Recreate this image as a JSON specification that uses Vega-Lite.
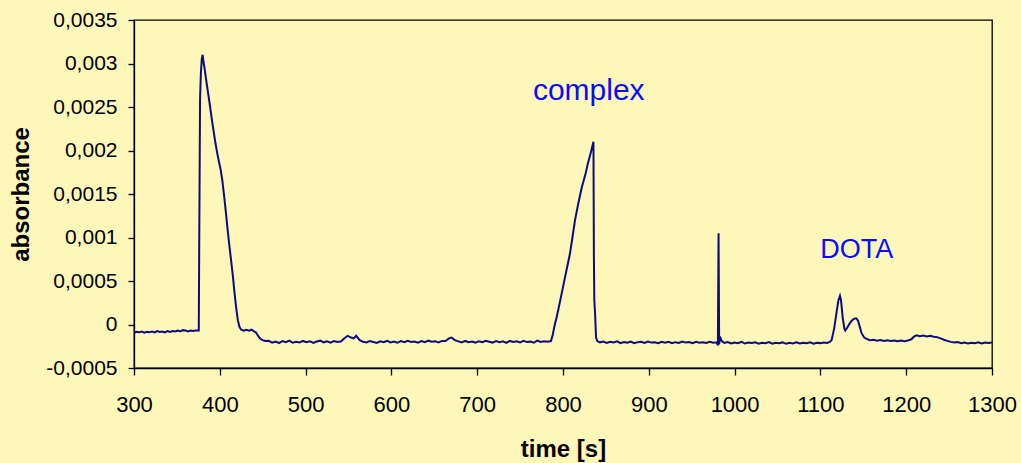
{
  "$schema": "https://vega.github.io/schema/vega-lite/v6.json",
  "width": 858,
  "height": 348,
  "autosize": "none",
  "padding": {"left": 134, "top": 20, "right": 29, "bottom": 95},
  "background": "#fdf8b9",
  "config": {
    "view": {"stroke": "#000000", "strokeWidth": 1.3},
    "axis": {
      "labelFont": "Liberation Sans",
      "titleFont": "Liberation Sans",
      "labelColor": "#000000",
      "titleColor": "#000000",
      "domainColor": "#000000",
      "tickColor": "#000000",
      "domainWidth": 1.3,
      "tickWidth": 1.3,
      "grid": false,
      "labelFontSize": 21,
      "titleFontSize": 24,
      "titleFontWeight": "bold",
      "labelFlush": false
    }
  },
  "datasets": {
    "trace": [
      {"t": 300, "a": -0.000095}, {"t": 303, "a": -0.000085}, {"t": 306, "a": -0.00009}, {"t": 309, "a": -0.00008},
      {"t": 312, "a": -0.000095}, {"t": 315, "a": -0.000085}, {"t": 318, "a": -0.00009}, {"t": 321, "a": -0.00008},
      {"t": 324, "a": -0.00009}, {"t": 327, "a": -0.000075}, {"t": 330, "a": -0.000085}, {"t": 333, "a": -0.00008},
      {"t": 336, "a": -0.00009}, {"t": 339, "a": -0.000075}, {"t": 342, "a": -0.000085}, {"t": 345, "a": -0.000075},
      {"t": 348, "a": -0.00008}, {"t": 351, "a": -0.00007}, {"t": 354, "a": -0.00008}, {"t": 357, "a": -0.000065},
      {"t": 360, "a": -0.00007}, {"t": 363, "a": -0.00008}, {"t": 366, "a": -0.00007}, {"t": 369, "a": -0.000075},
      {"t": 372, "a": -0.00007}, {"t": 375.5, "a": -0.00007}, {"t": 376, "a": 0.0009}, {"t": 377, "a": 0.0026},
      {"t": 378, "a": 0.0029}, {"t": 379, "a": 0.00305}, {"t": 380, "a": 0.0031}, {"t": 381, "a": 0.00302},
      {"t": 382, "a": 0.00296}, {"t": 383, "a": 0.00289}, {"t": 385, "a": 0.00275}, {"t": 387, "a": 0.00262},
      {"t": 389, "a": 0.00248}, {"t": 391, "a": 0.00234}, {"t": 393, "a": 0.00221}, {"t": 395, "a": 0.00208},
      {"t": 397, "a": 0.00197}, {"t": 399, "a": 0.00187}, {"t": 401, "a": 0.00178}, {"t": 403, "a": 0.00165},
      {"t": 405, "a": 0.00148}, {"t": 407, "a": 0.0013}, {"t": 409, "a": 0.0011}, {"t": 411, "a": 0.00092},
      {"t": 413, "a": 0.00075}, {"t": 415, "a": 0.00058}, {"t": 417, "a": 0.00038}, {"t": 419, "a": 0.0002},
      {"t": 421, "a": 0.00005}, {"t": 423, "a": -0.00003}, {"t": 425, "a": -0.00006}, {"t": 428, "a": -0.00007},
      {"t": 431, "a": -0.00006}, {"t": 434, "a": -0.00007}, {"t": 437, "a": -0.00006}, {"t": 440, "a": -0.00008},
      {"t": 442, "a": -0.00009}, {"t": 444, "a": -0.00012}, {"t": 446, "a": -0.00015}, {"t": 448, "a": -0.00017},
      {"t": 450, "a": -0.00018}, {"t": 453, "a": -0.00019}, {"t": 457, "a": -0.000188}, {"t": 461, "a": -0.000208},
      {"t": 465, "a": -0.000195}, {"t": 469, "a": -0.000213}, {"t": 473, "a": -0.000191}, {"t": 477, "a": -0.000204},
      {"t": 481, "a": -0.000186}, {"t": 485, "a": -0.00021}, {"t": 489, "a": -0.000198}, {"t": 493, "a": -0.000207},
      {"t": 497, "a": -0.000189}, {"t": 501, "a": -0.000203}, {"t": 505, "a": -0.000192}, {"t": 509, "a": -0.000211},
      {"t": 513, "a": -0.000196}, {"t": 517, "a": -0.000186}, {"t": 521, "a": -0.000205}, {"t": 525, "a": -0.000194},
      {"t": 529, "a": -0.000209}, {"t": 533, "a": -0.000191}, {"t": 537, "a": -0.000202}, {"t": 541, "a": -0.000195},
      {"t": 545, "a": -0.00016}, {"t": 549, "a": -0.00013}, {"t": 553, "a": -0.00015}, {"t": 556, "a": -0.00016},
      {"t": 559, "a": -0.00013}, {"t": 563, "a": -0.00018}, {"t": 567, "a": -0.000198}, {"t": 571, "a": -0.000207},
      {"t": 575, "a": -0.000189}, {"t": 579, "a": -0.000201}, {"t": 583, "a": -0.000212}, {"t": 587, "a": -0.000193},
      {"t": 591, "a": -0.000204}, {"t": 595, "a": -0.000188}, {"t": 599, "a": -0.000206}, {"t": 603, "a": -0.000196},
      {"t": 607, "a": -0.00021}, {"t": 611, "a": -0.00019}, {"t": 615, "a": -0.000203}, {"t": 619, "a": -0.000187},
      {"t": 623, "a": -0.000201}, {"t": 627, "a": -0.000195}, {"t": 631, "a": -0.000208}, {"t": 635, "a": -0.000191},
      {"t": 639, "a": -0.000203}, {"t": 643, "a": -0.000186}, {"t": 647, "a": -0.000199}, {"t": 651, "a": -0.000192},
      {"t": 655, "a": -0.000206}, {"t": 659, "a": -0.000189}, {"t": 663, "a": -0.00019}, {"t": 667, "a": -0.00016},
      {"t": 670, "a": -0.00015}, {"t": 674, "a": -0.00018}, {"t": 678, "a": -0.000194}, {"t": 682, "a": -0.000207},
      {"t": 686, "a": -0.000189}, {"t": 690, "a": -0.000203}, {"t": 694, "a": -0.000195}, {"t": 698, "a": -0.00021},
      {"t": 702, "a": -0.000192}, {"t": 706, "a": -0.000204}, {"t": 710, "a": -0.000187}, {"t": 714, "a": -0.000199},
      {"t": 718, "a": -0.000208}, {"t": 722, "a": -0.000191}, {"t": 726, "a": -0.000203}, {"t": 730, "a": -0.000194},
      {"t": 734, "a": -0.000211}, {"t": 738, "a": -0.000189}, {"t": 742, "a": -0.0002}, {"t": 746, "a": -0.000193},
      {"t": 750, "a": -0.000206}, {"t": 754, "a": -0.000188}, {"t": 758, "a": -0.000202}, {"t": 762, "a": -0.000197},
      {"t": 766, "a": -0.00021}, {"t": 770, "a": -0.000185}, {"t": 774, "a": -0.000201}, {"t": 778, "a": -0.000192},
      {"t": 782, "a": -0.000198}, {"t": 786, "a": -0.00019}, {"t": 788, "a": -0.00012}, {"t": 790, "a": -0.00002},
      {"t": 793, "a": 0.0001}, {"t": 796, "a": 0.00024}, {"t": 800, "a": 0.00043}, {"t": 804, "a": 0.00062},
      {"t": 808, "a": 0.00081}, {"t": 811, "a": 0.001}, {"t": 814, "a": 0.0012}, {"t": 818, "a": 0.0014},
      {"t": 822, "a": 0.00158}, {"t": 826, "a": 0.00172}, {"t": 829, "a": 0.00185}, {"t": 832, "a": 0.00196},
      {"t": 835, "a": 0.00208}, {"t": 835.5, "a": 0.0021}, {"t": 836, "a": 0.0008}, {"t": 836.5, "a": 0.00028},
      {"t": 837.5, "a": 0.0001}, {"t": 838.5, "a": -0.00015}, {"t": 840, "a": -0.00019}, {"t": 843, "a": -0.000205},
      {"t": 847, "a": -0.000196}, {"t": 851, "a": -0.000212}, {"t": 855, "a": -0.000199}, {"t": 859, "a": -0.000207},
      {"t": 863, "a": -0.000193}, {"t": 867, "a": -0.000214}, {"t": 871, "a": -0.000201}, {"t": 875, "a": -0.00021},
      {"t": 879, "a": -0.000196}, {"t": 883, "a": -0.000215}, {"t": 887, "a": -0.000203}, {"t": 891, "a": -0.000199},
      {"t": 895, "a": -0.000212}, {"t": 899, "a": -0.000197}, {"t": 903, "a": -0.000208}, {"t": 907, "a": -0.000204},
      {"t": 911, "a": -0.000216}, {"t": 915, "a": -0.000199}, {"t": 919, "a": -0.000209}, {"t": 923, "a": -0.0002},
      {"t": 927, "a": -0.000214}, {"t": 931, "a": -0.000203}, {"t": 935, "a": -0.000211}, {"t": 939, "a": -0.000196},
      {"t": 943, "a": -0.000208}, {"t": 947, "a": -0.000202}, {"t": 951, "a": -0.000215}, {"t": 955, "a": -0.000199},
      {"t": 959, "a": -0.00021}, {"t": 963, "a": -0.000204}, {"t": 967, "a": -0.000213}, {"t": 971, "a": -0.0002},
      {"t": 975, "a": -0.000209}, {"t": 979, "a": -0.000205}, {"t": 980.5, "a": -0.00024}, {"t": 981.3, "a": 0.00105},
      {"t": 982, "a": -0.00023}, {"t": 983, "a": -0.00014}, {"t": 985, "a": -0.00019}, {"t": 988, "a": -0.000212},
      {"t": 992, "a": -0.000201}, {"t": 996, "a": -0.000218}, {"t": 1000, "a": -0.000207}, {"t": 1004, "a": -0.000214},
      {"t": 1008, "a": -0.0002}, {"t": 1012, "a": -0.000219}, {"t": 1016, "a": -0.000208}, {"t": 1020, "a": -0.000213},
      {"t": 1024, "a": -0.000204}, {"t": 1028, "a": -0.000221}, {"t": 1032, "a": -0.000209}, {"t": 1036, "a": -0.000215},
      {"t": 1040, "a": -0.000203}, {"t": 1044, "a": -0.00022}, {"t": 1048, "a": -0.000211}, {"t": 1052, "a": -0.000216},
      {"t": 1056, "a": -0.000206}, {"t": 1060, "a": -0.000222}, {"t": 1064, "a": -0.00021}, {"t": 1068, "a": -0.000217},
      {"t": 1072, "a": -0.000205}, {"t": 1076, "a": -0.000219}, {"t": 1080, "a": -0.000211}, {"t": 1084, "a": -0.000216},
      {"t": 1088, "a": -0.000204}, {"t": 1092, "a": -0.00022}, {"t": 1096, "a": -0.00021}, {"t": 1100, "a": -0.000214},
      {"t": 1104, "a": -0.000206}, {"t": 1108, "a": -0.000212}, {"t": 1111, "a": -0.0002}, {"t": 1113, "a": -0.00018},
      {"t": 1116, "a": -0.00005}, {"t": 1119, "a": 0.00015}, {"t": 1121, "a": 0.00028}, {"t": 1122.8, "a": 0.00033},
      {"t": 1124, "a": 0.00028}, {"t": 1126, "a": 0.00008}, {"t": 1128, "a": -0.00005}, {"t": 1129, "a": -0.00007},
      {"t": 1131, "a": -0.00004}, {"t": 1134, "a": 0.00001}, {"t": 1137, "a": 0.00005}, {"t": 1140, "a": 0.00007},
      {"t": 1142, "a": 0.00007}, {"t": 1144, "a": 0.00004}, {"t": 1146, "a": -0.00003}, {"t": 1148, "a": -0.0001},
      {"t": 1151, "a": -0.00015}, {"t": 1155, "a": -0.00017}, {"t": 1158, "a": -0.000182}, {"t": 1162, "a": -0.000175},
      {"t": 1166, "a": -0.000186}, {"t": 1170, "a": -0.000178}, {"t": 1174, "a": -0.000189}, {"t": 1178, "a": -0.000181},
      {"t": 1182, "a": -0.00019}, {"t": 1186, "a": -0.000183}, {"t": 1190, "a": -0.000192}, {"t": 1194, "a": -0.000185},
      {"t": 1198, "a": -0.000191}, {"t": 1202, "a": -0.000184}, {"t": 1206, "a": -0.00017}, {"t": 1209, "a": -0.00014},
      {"t": 1212, "a": -0.000125}, {"t": 1216, "a": -0.000135}, {"t": 1220, "a": -0.000128}, {"t": 1224, "a": -0.000138},
      {"t": 1228, "a": -0.00013}, {"t": 1232, "a": -0.00014}, {"t": 1236, "a": -0.000145}, {"t": 1240, "a": -0.00016},
      {"t": 1244, "a": -0.000175}, {"t": 1248, "a": -0.000188}, {"t": 1252, "a": -0.0002}, {"t": 1256, "a": -0.000208},
      {"t": 1260, "a": -0.000202}, {"t": 1264, "a": -0.000214}, {"t": 1268, "a": -0.000206}, {"t": 1272, "a": -0.000218},
      {"t": 1276, "a": -0.000209}, {"t": 1280, "a": -0.000215}, {"t": 1284, "a": -0.000205}, {"t": 1288, "a": -0.000217},
      {"t": 1292, "a": -0.000208}, {"t": 1296, "a": -0.000213}, {"t": 1300, "a": -0.000206}
    ],
    "notes": [
      {"t": 830, "a": 0.00258, "label": "complex", "size": 30},
      {"t": 1142.5, "a": 0.00077, "label": "DOTA", "size": 27}
    ]
  },
  "layer": [
    {
      "data": {"name": "trace"},
      "mark": {"type": "line", "color": "#0b0b85", "strokeWidth": 2, "clip": true},
      "encoding": {
        "x": {
          "field": "t", "type": "quantitative",
          "scale": {"domain": [300, 1300], "nice": false, "zero": false},
          "axis": {
            "title": "time [s]",
            "values": [300, 400, 500, 600, 700, 800, 900, 1000, 1100, 1200, 1300],
            "format": "d",
            "tickSize": 7,
            "labelPadding": 19,
            "titlePadding": 22,
            "labelFontSize": 22
          }
        },
        "y": {
          "field": "a", "type": "quantitative",
          "scale": {"domain": [-0.0005, 0.0035], "nice": false, "zero": false},
          "axis": {
            "title": "absorbance",
            "values": [-0.0005, 0, 0.0005, 0.001, 0.0015, 0.002, 0.0025, 0.003, 0.0035],
            "labelExpr": "replace(toString(datum.value), '.', ',')",
            "tickSize": 6,
            "labelPadding": 11,
            "titlePadding": 12
          }
        }
      }
    },
    {
      "data": {"name": "notes"},
      "mark": {"type": "text", "color": "#0a0aff", "font": "Liberation Sans", "align": "center", "baseline": "alphabetic"},
      "encoding": {
        "x": {"field": "t", "type": "quantitative"},
        "y": {"field": "a", "type": "quantitative"},
        "text": {"field": "label"},
        "size": {"field": "size", "type": "quantitative", "scale": null}
      }
    }
  ]
}
